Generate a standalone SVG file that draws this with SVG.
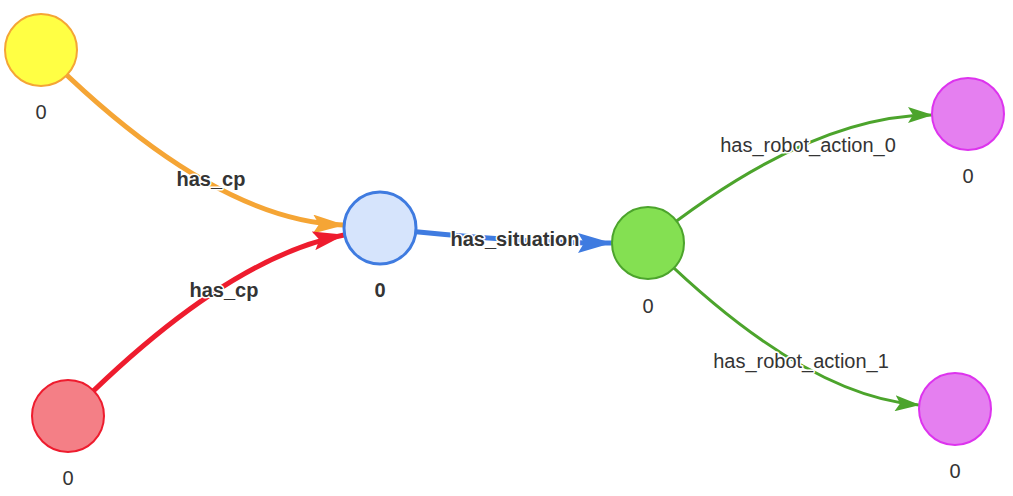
<svg xmlns="http://www.w3.org/2000/svg" width="1013" height="496" viewBox="0 0 1013 496">
<style>
.e{fill:none;stroke-linecap:round}
.lbl{font-family:"Liberation Sans",Arial,sans-serif;font-size:20px;fill:#343434;text-anchor:middle}
.el{font-family:"Liberation Sans",Arial,sans-serif;font-size:20px;fill:#343434;text-anchor:middle;stroke:#fff;stroke-width:3;paint-order:stroke;stroke-linejoin:round}
.b{font-weight:bold}
</style>
<defs>
<marker id="aO" viewBox="0 0 32 19" refX="31" refY="9.5" markerUnits="userSpaceOnUse" markerWidth="32" markerHeight="19" orient="auto"><path d="M0,0 L32,9.5 L0,19 L6,9.5 Z" fill="#f5a535"/></marker>
<marker id="aR" viewBox="0 0 32 19" refX="31" refY="9.5" markerUnits="userSpaceOnUse" markerWidth="32" markerHeight="19" orient="auto"><path d="M0,0 L32,9.5 L0,19 L6,9.5 Z" fill="#ee1c2e"/></marker>
<marker id="aB" viewBox="0 0 34 20" refX="33" refY="10" markerUnits="userSpaceOnUse" markerWidth="34" markerHeight="20" orient="auto"><path d="M0,0 L34,10 L0,20 L6,10 Z" fill="#3f7be0"/></marker>
<marker id="aG" viewBox="0 0 25 16" refX="24" refY="8" markerUnits="userSpaceOnUse" markerWidth="25" markerHeight="16" orient="auto"><path d="M0,0 L25,8 L0,16 L5,8 Z" fill="#4ca42c"/></marker>
</defs>
<g id="edges">
<path class="e" d="M41,50 Q211.5,221 344,225" stroke="#f5a535" stroke-width="5" marker-end="url(#aO)"/>
<path class="e" d="M68,416 Q224,258 344,235" stroke="#ee1c2e" stroke-width="5" marker-end="url(#aR)"/>
<path class="e" d="M380,228 Q516,243 611,243" stroke="#3f7be0" stroke-width="5" marker-end="url(#aB)"/>
<path class="e" d="M648,243 Q808,115 932,115" stroke="#4ca42c" stroke-width="3" marker-end="url(#aG)"/>
<path class="e" d="M648,243 Q801.5,396 919,405" stroke="#4ca42c" stroke-width="3" marker-end="url(#aG)"/>
<text class="el b" x="211" y="186">has_cp</text>
<text class="el b" x="224" y="297">has_cp</text>
<text class="el b" x="515" y="246">has_situation</text>
<text class="el" x="808" y="152">has_robot_action_0</text>
<text class="el" x="801" y="368">has_robot_action_1</text>
</g>
<g id="n_yellow">
<circle cx="41" cy="50" r="36" fill="#ffff44" stroke="#f5a535" stroke-width="2"/>
<text class="lbl" x="41" y="119">0</text>
</g>
<g id="n_red">
<circle cx="68" cy="416" r="36" fill="#f47f86" stroke="#ee1c2e" stroke-width="2"/>
<text class="lbl" x="68" y="485">0</text>
</g>
<g id="n_blue">
<circle cx="380" cy="228" r="36" fill="#d6e4fc" stroke="#3f7be0" stroke-width="3"/>
<text class="lbl b" x="380" y="297">0</text>
</g>
<g id="n_green">
<circle cx="648" cy="243" r="36" fill="#84e052" stroke="#4ca42c" stroke-width="2"/>
<text class="lbl" x="648" y="313">0</text>
</g>
<g id="n_action0">
<circle cx="968" cy="114" r="36" fill="#e57ff0" stroke="#dd33ee" stroke-width="2"/>
<text class="lbl" x="968" y="183">0</text>
</g>
<g id="n_action1">
<circle cx="955" cy="409" r="36" fill="#e57ff0" stroke="#dd33ee" stroke-width="2"/>
<text class="lbl" x="955" y="478">0</text>
</g>
</svg>
